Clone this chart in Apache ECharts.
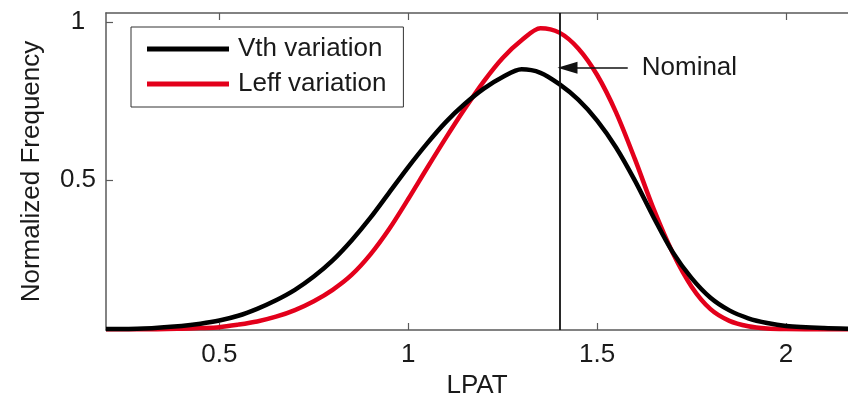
<!DOCTYPE html>
<html>
<head>
<meta charset="utf-8">
<script src="https://cdn.jsdelivr.net/npm/echarts@6/dist/echarts.min.js"></script>
<style>
html, body { margin: 0; padding: 0; background: #fff; }
#chart { width: 848px; height: 398px; }
</style>
</head>
<body>
<div id="chart"></div>
<script>
// values
const lpat = [0.20, 0.30, 0.40, 0.45, 0.50, 0.55, 0.60, 0.65, 0.70, 0.75, 0.80, 0.85, 0.90, 0.95, 1.00, 1.05, 1.10, 1.15, 1.20, 1.25, 1.30, 1.35, 1.40, 1.45, 1.50, 1.55, 1.60, 1.65, 1.70, 1.75, 1.80, 1.85, 1.90, 1.95, 2.00, 2.10, 2.164];
const freqVth = [0.029, 0.031, 0.039, 0.046, 0.056, 0.071, 0.093, 0.120, 0.153, 0.195, 0.246, 0.309, 0.381, 0.461, 0.541, 0.616, 0.684, 0.741, 0.789, 0.826, 0.850, 0.839, 0.803, 0.754, 0.688, 0.603, 0.498, 0.381, 0.272, 0.190, 0.128, 0.088, 0.063, 0.048, 0.039, 0.032, 0.030];
const freqLeff = [0.028, 0.028, 0.030, 0.032, 0.035, 0.043, 0.053, 0.068, 0.089, 0.117, 0.153, 0.200, 0.265, 0.346, 0.440, 0.538, 0.634, 0.726, 0.812, 0.886, 0.942, 0.980, 0.966, 0.916, 0.832, 0.714, 0.566, 0.407, 0.270, 0.163, 0.092, 0.055, 0.038, 0.031, 0.029, 0.028, 0.028];
const xTicks = [0.5, 1, 1.5, 2];
const yTicks = [0.5, 1];
const nominalLpat = 1.395;
const nominalArrowFrom = [1.581, 0.855];
const nominalArrowTo = [1.4215, 0.855];

const font = '"Liberation Sans", Arial, Helvetica, sans-serif';
const axisGray = '#5a5a5a';
const textColor = '#1a1a1a';

const pairs = (xs, ys) => xs.map((x, i) => [x, ys[i]]);

const chart = echarts.init(document.getElementById('chart'), null, {renderer: 'canvas'});

const xBase = {
    type: 'value',
    min: 0.2,
    max: 2.164,
    splitLine: {show: false},
    axisLine: {show: true, onZero: false, lineStyle: {color: axisGray, width: 1.5}},
    axisTick: {show: true, inside: true, length: 7, customValues: xTicks, lineStyle: {color: axisGray, width: 1.2}}
};

chart.setOption({
    animation: false,
    backgroundColor: '#fff',
    textStyle: {fontFamily: font},
    grid: {left: 106, top: 13, right: 0, bottom: 68, containLabel: false, outerBoundsMode: 'none'},
    legend: {
        orient: 'vertical',
        left: 131,
        top: 27,
        padding: [7, 17, 8, 16],
        itemGap: 5,
        itemWidth: 82,
        itemHeight: 5,
        icon: 'rect',
        borderColor: '#333',
        borderWidth: 1,
        backgroundColor: '#fff',
        data: ['Vth variation', 'Leff variation'],
        textStyle: {fontSize: 26, color: textColor, fontFamily: font, lineHeight: 30, padding: [0, 0, 0, 4]}
    },
    xAxis: [
        Object.assign({}, xBase, {
            position: 'bottom',
            name: 'LPAT',
            nameLocation: 'middle',
            nameGap: 40,
            nameTextStyle: {fontSize: 26, color: textColor, fontFamily: font},
            axisLabel: {show: true, customValues: xTicks, margin: 12, fontSize: 26, color: textColor, fontFamily: font,
                formatter: v => String(v)}
        }),
        Object.assign({}, xBase, {
            position: 'top',
            axisLabel: {show: false}
        })
    ],
    yAxis: {
        type: 'value',
        min: 0.026,
        max: 1.028,
        splitLine: {show: false},
        name: 'Normalized Frequency',
        nameLocation: 'middle',
        nameGap: 61,
        nameTextStyle: {fontSize: 26, color: textColor, fontFamily: font},
        axisLine: {show: true, onZero: false, lineStyle: {color: axisGray, width: 1.5}},
        axisTick: {show: true, inside: true, length: 7, customValues: yTicks, lineStyle: {color: axisGray, width: 1.2}},
        axisLabel: {show: true, customValues: yTicks, margin: 28, align: 'center', fontSize: 26, color: textColor,
            fontFamily: font, formatter: v => String(v)}
    },
    series: [
        {
            name: 'Leff variation',
            type: 'line',
            data: pairs(lpat, freqLeff),
            smooth: 0.3,
            showSymbol: false,
            symbol: 'none',
            color: '#e3001b',
            lineStyle: {color: '#e3001b', width: 4.5},
            z: 2
        },
        {
            name: 'Vth variation',
            type: 'line',
            data: pairs(lpat, freqVth),
            smooth: 0.3,
            showSymbol: false,
            symbol: 'none',
            color: '#000',
            lineStyle: {color: '#000', width: 4.5},
            z: 3,
            markLine: {
                silent: true,
                animation: false,
                symbol: ['none', 'none'],
                data: [
                    {
                        xAxis: nominalLpat,
                        lineStyle: {color: '#111', width: 1.8, type: 'solid'},
                        label: {show: false}
                    },
                    [
                        {
                            coord: nominalArrowFrom,
                            symbol: 'none',
                            label: {show: true, position: 'start', formatter: 'Nominal', distance: 14,
                                fontSize: 26, color: textColor, fontFamily: font}
                        },
                        {
                            coord: nominalArrowTo,
                            symbol: 'triangle',
                            symbolSize: [12, 20]
                        }
                    ]
                ],
                lineStyle: {color: '#111', width: 1.5, type: 'solid'}
            }
        }
    ]
});
</script>
</body>
</html>
